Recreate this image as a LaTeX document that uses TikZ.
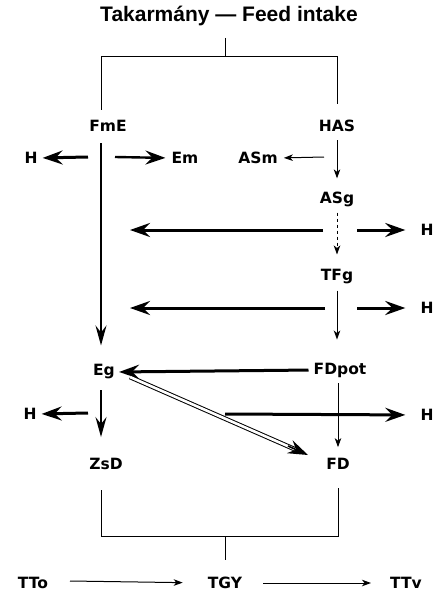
\documentclass[tikz,border=0pt]{standalone}
\usepackage{fontspec}
\setmainfont{DejaVu Sans}
\newfontfamily\titlefont{Liberation Sans}
\usetikzlibrary{arrows.meta}
\begin{document}
\begin{tikzpicture}[x=1pt,y=-1pt,
  lbl/.style={font=\bfseries\fontsize{15.5}{18}\selectfont, inner sep=1pt},
  bigflow/.style={line width=3pt,-{Stealth[length=20pt,width=14pt,inset=7pt]}},
  midflow/.style={line width=2pt,-{Stealth[length=20pt,width=11pt,inset=7pt]}},
  thinflow/.style={line width=1pt,-{Stealth[length=9pt,width=6.5pt,inset=2.5pt]}},
  bracket/.style={line width=1pt}]
\useasboundingbox (0,0) rectangle (434,599);

% title
\node (title) at (229,16) {\titlefont\bfseries\fontsize{21}{24}\selectfont Takarmány — Feed intake};

% main nodes
\node[lbl] (FmE)   at (108,126) {FmE};
\node[lbl] (HAS)   at (337,126) {HAS};
\node[lbl] (Em)    at (185,158) {Em};
\node[lbl] (ASm)   at (258,158) {ASm};
\node[lbl] (ASg)   at (337,199) {ASg};
\node[lbl] (TFg)   at (337,277) {TFg};
\node[lbl] (Eg)    at (104,372) {Eg};
\node[lbl] (FDpot) at (340,370) {FDpot};
\node[lbl] (ZsD)   at (106,464) {ZsD};
\node[lbl] (FD)    at (338,464) {FD};
\node[lbl] (H1)    at (31,158) {H};
\node[lbl] (H2)    at (427,230) {H};
\node[lbl] (H3)    at (427,308) {H};
\node[lbl] (H4)    at (30,414) {H};
\node[lbl] (H5)    at (427,415) {H};
\node[lbl] (TTo)   at (33,583) {TTo};
\node[lbl] (TGY)   at (225,583) {TGY};
\node[lbl] (TTv)   at (406,583) {TTv};

% junction points of the brackets and side branches
\coordinate (topstub) at (225,38);
\coordinate (topbar)  at (225,57);
\coordinate (botbar)  at (225,536);
\coordinate (botstub) at (225,560);
\coordinate (fmeL) at (88,157);
\coordinate (fmeR) at (115,157);
\coordinate (fmeD) at (101,143);
\coordinate (egD)  at (101,390);
\coordinate (asmS) at (324,157);
\coordinate (asgS) at (323,230);
\coordinate (asgE) at (130,230);
\coordinate (asgR) at (357,230);
\coordinate (tfgS) at (325,308);
\coordinate (tfgE) at (130,308);
\coordinate (tfgR) at (357,308);
\coordinate (egL)  at (88,413);
\coordinate (fdR)  at (225,414);
\coordinate (egS)  at (130,377);
\coordinate (ttoE) at (70,581);

% upper bracket
\draw[bracket] (topstub) -- (topbar);
\draw[bracket] (101,110) -- (101,57) -- (337,57) -- (337,104);

% lower bracket
\draw[bracket] (101,490) -- (101,536) -- (338,536) -- (338,488);
\draw[bracket] (botbar) -- (botstub);

% left column
\draw[midflow] (fmeD) -- (Eg.north -| fmeD) [shorten >=18pt];
\draw[bigflow] (fmeL) -- (H1.east) [shorten >=4pt];
\draw[bigflow,line width=2.4pt] (fmeR) -- (Em.west) [shorten >=5pt];
\draw[midflow,line width=1.8pt] (egD) -- (ZsD.north -| egD) [shorten >=20pt];
\draw[bigflow] (egL) -- (H4.east) [shorten >=4pt];

% right column
\draw[thinflow] (HAS.south) -- (ASg.north) [shorten >=12pt, shorten <=7pt];
\draw[thinflow] (asmS) -- (ASm.east) [shorten >=5pt];
\draw[thinflow,dashed] (ASg.south) -- (TFg.north) [shorten >=14pt, shorten <=5pt];
\draw[thinflow] (TFg.south) -- (FDpot.north -| 337,0) [shorten >=22pt, shorten <=5pt];
\draw[thinflow] (FDpot.south -| 338,0) -- (FD.north) [shorten >=10pt, shorten <=5pt];

% long horizontal flows
\draw[bigflow] (asgS) -- (asgE);
\draw[bigflow] (asgR) -- (H2.west) [shorten >=14pt];
\draw[bigflow] (tfgS) -- (tfgE);
\draw[bigflow] (tfgR) -- (H3.west) [shorten >=14pt];
\draw[bigflow] (FDpot.west) -- (Eg.east) [shorten <=4pt, shorten >=3pt];
\draw[bigflow] (fdR) -- (H5.west) [shorten >=14pt];

% Eg to FD: double shaft with a single head
\draw[line width=1pt,double,double distance=2.6pt,shorten >=12pt] (egS) -- (308,455);
\draw[line width=1.6pt,-{Stealth[length=20pt,width=14pt,inset=7pt]}] (288,446) -- (308,455);

% bottom row
\draw[thinflow] (ttoE) -- (TGY.west) [shorten >=24pt];
\draw[thinflow] (TGY.east) -- (TTv.west) [shorten <=20pt, shorten >=18pt];
\end{tikzpicture}
\end{document}
